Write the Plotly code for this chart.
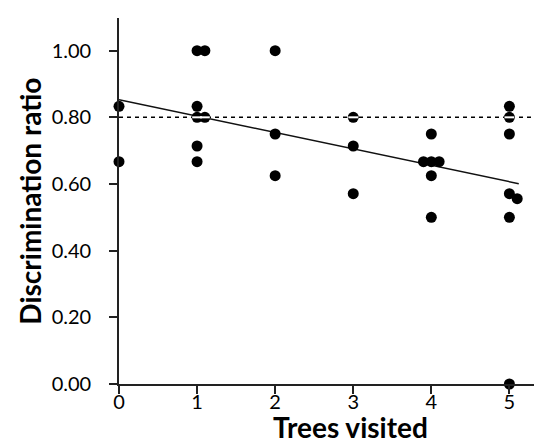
import plotly.graph_objects as go

# Data
trees_x = [0, 0,
           1, 1.1, 1, 1, 1.1, 1, 1,
           2, 2, 2,
           3, 3, 3,
           4, 3.9, 4, 4.1, 4, 4,
           5, 5, 5, 5, 5.1, 5, 5]
ratio_y = [0.833, 0.667,
           1.0, 1.0, 0.833, 0.8, 0.8, 0.714, 0.667,
           1.0, 0.75, 0.625,
           0.8, 0.714, 0.571,
           0.75, 0.667, 0.667, 0.667, 0.625, 0.5,
           0.833, 0.8, 0.75, 0.571, 0.556, 0.5, 0.0]

fit_x = [0, 5.12]
fit_y = [0.853, 0.601]

chance_level = 0.80

x_ticks = [0, 1, 2, 3, 4, 5]
y_ticks = [0.0, 0.2, 0.4, 0.6, 0.8, 1.0]
y_tick_labels = ["0.00", "0.20", "0.40", "0.60", "0.80", "1.00"]

x_title = "Trees visited"
y_title = "Discrimination ratio"

x_range = [0, 5.52]
y_range = [0, 1.098]

fig = go.Figure()

# dashed reference line
fig.add_trace(go.Scatter(
    x=[x_range[0], x_range[1]], y=[chance_level, chance_level],
    mode="lines", line=dict(color="black", width=1.5, dash="4px,4px"),
    hoverinfo="skip", showlegend=False, cliponaxis=False))

# regression line
fig.add_trace(go.Scatter(
    x=fit_x, y=fit_y, mode="lines",
    line=dict(color="#111111", width=1.5),
    hoverinfo="skip", showlegend=False))

# points
fig.add_trace(go.Scatter(
    x=trees_x, y=ratio_y, mode="markers",
    marker=dict(color="black", size=11, line=dict(width=0)),
    cliponaxis=False, showlegend=False))

# white slit through points lying on the reference line
on_line = [(x, y) for x, y in zip(trees_x, ratio_y) if abs(y - chance_level) < 1e-9]
fig.add_trace(go.Scatter(
    x=[p[0] for p in on_line], y=[p[1] for p in on_line], mode="markers",
    marker=dict(symbol="line-ew", size=7, line=dict(color="white", width=2)),
    cliponaxis=False, showlegend=False, hoverinfo="skip"))

axis_common = dict(
    showline=True, linecolor="#222222", linewidth=1.6,
    ticks="outside", ticklen=8, tickwidth=1.5, tickcolor="#222222",
    showgrid=False, zeroline=False,
    tickfont=dict(family="Lato", size=20, color="black"),
)

title_font = dict(family="Lato", size=28, color="black")

fig.update_layout(
    width=542, height=444,
    margin=dict(l=111, r=0, t=10, b=68),
    paper_bgcolor="white", plot_bgcolor="white",
    xaxis=dict(range=x_range, tickvals=x_ticks, ticklabelstandoff=-9, **axis_common),
    yaxis=dict(range=y_range, tickvals=y_ticks, ticktext=y_tick_labels,
               ticklabelstandoff=14, **axis_common),
    annotations=[
        dict(text="<b>" + x_title + "</b>", xref="paper", yref="paper",
             x=0.538, y=-0.117, xanchor="center", yanchor="middle",
             showarrow=False, font=title_font),
        dict(text="<b>" + y_title + "</b>", xref="paper", yref="paper",
             x=-0.2065, y=0.501, xanchor="center", yanchor="middle",
             textangle=-90, showarrow=False, font=title_font),
    ],
)

fig.write_html("out.html")
